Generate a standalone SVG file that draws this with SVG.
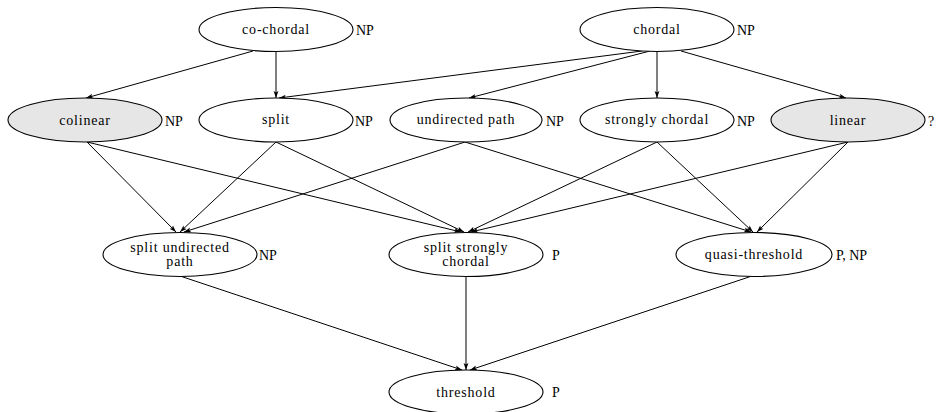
<svg xmlns="http://www.w3.org/2000/svg" width="936" height="412" viewBox="0 0 936 412">
<style>
.n{fill:#fff;stroke:#000;stroke-width:1.1}
.g{fill:#e6e6e6}
.t{font-size:14px;letter-spacing:0.8px;text-anchor:middle;fill:#000}
.l{font-size:14px;fill:#000}
.e{stroke:#000;stroke-width:1;fill:none;marker-end:url(#a)}
</style>
<defs>
<marker id="a" markerUnits="userSpaceOnUse" markerWidth="8" markerHeight="6" refX="7" refY="3" orient="auto">
<path d="M0,0.6 L7,3 L0,5.4 L1.6,3 z" fill="#000"/>
</marker>
</defs>
<g id="edges">
<line class="e" x1="253" y1="51" x2="86" y2="98"/>
<line class="e" x1="276" y1="52" x2="276" y2="98"/>
<line class="e" x1="642" y1="51" x2="279" y2="98"/>
<line class="e" x1="650" y1="51" x2="469" y2="98"/>
<line class="e" x1="657" y1="52" x2="657" y2="98"/>
<line class="e" x1="681" y1="51" x2="846" y2="98"/>
<line class="e" x1="87" y1="142" x2="176" y2="232"/>
<line class="e" x1="87" y1="142" x2="461" y2="232"/>
<line class="e" x1="276" y1="142" x2="180" y2="232"/>
<line class="e" x1="276" y1="142" x2="464" y2="232"/>
<line class="e" x1="465" y1="142" x2="184" y2="232"/>
<line class="e" x1="465" y1="142" x2="751" y2="232"/>
<line class="e" x1="657" y1="142" x2="468" y2="232"/>
<line class="e" x1="657" y1="142" x2="753" y2="232"/>
<line class="e" x1="848" y1="142" x2="471" y2="232"/>
<line class="e" x1="848" y1="142" x2="757" y2="232"/>
<line class="e" x1="180" y1="276" x2="462" y2="370"/>
<line class="e" x1="466" y1="277" x2="466" y2="370"/>
<line class="e" x1="752" y1="276" x2="470" y2="370"/>
</g>
<g font-family="Liberation Serif, DejaVu Serif, serif">
<g id="cochordal"><ellipse class="n" cx="276" cy="29.5" rx="77" ry="22"/><text class="t" x="276" y="34">co-chordal</text><text class="l" x="356" y="35">NP</text></g>
<g id="chordal"><ellipse class="n" cx="657" cy="29.5" rx="77" ry="22"/><text class="t" x="657" y="34">chordal</text><text class="l" x="737" y="35">NP</text></g>
<g id="colinear"><ellipse class="n g" cx="85" cy="120" rx="77" ry="22"/><text class="t" x="85" y="125">colinear</text><text class="l" x="165" y="126">NP</text></g>
<g id="split"><ellipse class="n" cx="276" cy="120" rx="77" ry="22"/><text class="t" x="276" y="124">split</text><text class="l" x="355" y="126">NP</text></g>
<g id="undirectedpath"><ellipse class="n" cx="466" cy="120" rx="76" ry="22"/><text class="t" x="466" y="124">undirected path</text><text class="l" x="546" y="126">NP</text></g>
<g id="stronglychordal"><ellipse class="n" cx="657" cy="120" rx="77" ry="22"/><text class="t" x="657" y="124">strongly chordal</text><text class="l" x="737" y="126">NP</text></g>
<g id="linear"><ellipse class="n g" cx="848" cy="120" rx="77" ry="22"/><text class="t" x="848" y="125">linear</text><text class="l" x="928" y="126">?</text></g>
<g id="splitundirectedpath"><ellipse class="n" cx="180" cy="254.5" rx="77" ry="22"/><text class="t" x="180" y="252">split undirected</text><text class="t" x="180" y="266">path</text><text class="l" x="259" y="260">NP</text></g>
<g id="splitstronglychordal"><ellipse class="n" cx="466" cy="254.5" rx="77" ry="22"/><text class="t" x="466" y="252">split strongly</text><text class="t" x="466" y="266">chordal</text><text class="l" x="552" y="260">P</text></g>
<g id="quasithreshold"><ellipse class="n" cx="754" cy="254.5" rx="78" ry="22"/><text class="t" x="754" y="259">quasi-threshold</text><text class="l" x="836" y="260">P, NP</text></g>
<g id="threshold"><ellipse class="n" cx="466" cy="392" rx="77" ry="22"/><text class="t" x="466" y="397">threshold</text><text class="l" x="552" y="397">P</text></g>
</g>
</svg>
